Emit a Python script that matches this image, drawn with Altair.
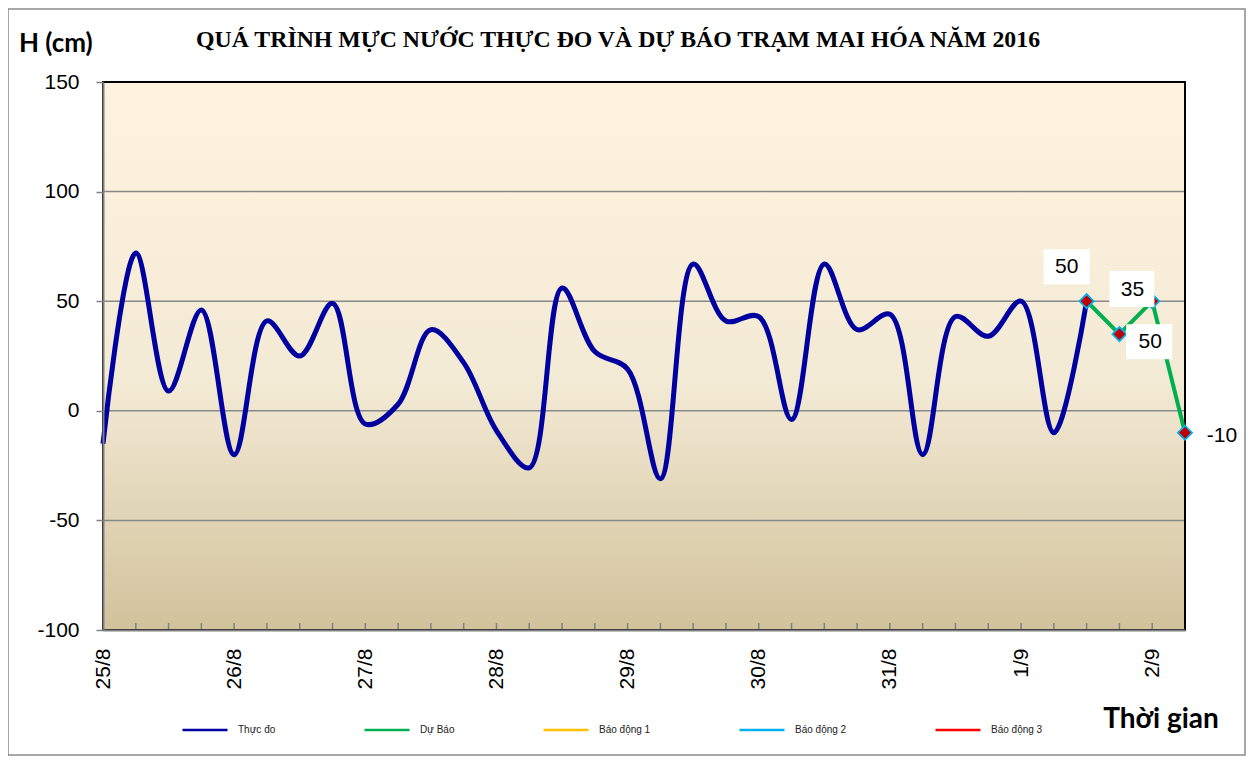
import json
import altair as alt
import pandas as pd

# ---------------- data ----------------
day_labels = ["25/8", "26/8", "27/8", "28/8", "29/8", "30/8", "31/8", "1/9", "2/9"]
steps_per_day = 4
obs_steps = list(range(0, 31))
obs_values = [-15, 72, 9, 46, -20, 41, 25, 49, -6, 3, 37, 22, -9, -26, 56, 27, 19,
              -31, 67, 41, 43, -4, 67, 37, 44, -20, 43, 34, 50, -10, 50]
fc_steps = [30, 31, 32, 33]
fc_values = [50, 35, 50, -10]
series_names = ["Thực đo", "Dự Báo", "Báo động 1", "Báo động 2", "Báo động 3"]
series_colors = ["#0000A0", "#00B050", "#FFC000", "#00B0F0", "#FF0000"]
y_ticks = [-100, -50, 0, 50, 100, 150]
grid_values = [-50, 0, 50, 100]
tick_steps = list(range(1, 33))
title_text = "QUÁ TRÌNH MỰC NƯỚC THỰC ĐO VÀ DỰ BÁO TRẠM MAI HÓA  NĂM 2016"
y_title = "H (cm)"
x_title = "Thời gian"

W, H = 1082, 548
x_max = fc_steps[-1]

obs_df = pd.DataFrame({"step": obs_steps, "value": obs_values, "series": series_names[0]})
fc_df = pd.DataFrame({"step": fc_steps, "value": fc_values, "series": series_names[1]})
fc_df["label"] = [str(v) for v in fc_values]
one = pd.DataFrame({"k": [0]})

label_expr = "%s[datum.value / %d]" % (json.dumps(day_labels), steps_per_day)

x_enc = alt.X(
    "step:Q",
    scale=alt.Scale(domain=[0, x_max], nice=False, zero=False),
    axis=alt.Axis(
        values=[i * steps_per_day for i in range(len(day_labels))],
        labelExpr=label_expr, labelAngle=270, labelFontSize=21,
        labelFont="Liberation Sans", labelColor="#000000", labelPadding=18,
        ticks=False, grid=False, domainColor="#808080", domainWidth=2,
        title=None, zindex=1,
    ),
)
y_enc = alt.Y(
    "value:Q",
    scale=alt.Scale(domain=[y_ticks[0], y_ticks[-1]], nice=False, zero=False),
    axis=alt.Axis(
        values=y_ticks, labelExpr="'' + datum.value", labelFontSize=21,
        labelFont="Liberation Sans",
        labelColor="#000000", labelPadding=17, tickSize=7, tickColor="#808080",
        tickWidth=1.5, grid=False, domainColor="#808080", domainWidth=2,
        title=None, zindex=1,
    ),
)
color_enc = alt.Color(
    "series:N",
    scale=alt.Scale(domain=series_names, range=series_colors),
    legend=alt.Legend(
        title=None, orient="none", legendX=78, legendY=624, direction="horizontal",
        symbolType="stroke", symbolSize=2025, symbolStrokeWidth=2.5,
        labelFontSize=10, labelFont="Liberation Sans", labelColor="#222222",
        labelOffset=9, columnPadding=83, gridAlign="none",
    ),
)

gradient = alt.LinearGradient(
    gradient="linear",
    stops=[
        alt.GradientStop(color="#FEF3DE", offset=0),
        alt.GradientStop(color="#F3EAD5", offset=0.55),
        alt.GradientStop(color="#D1C29B", offset=1),
    ],
    x1=0, x2=0, y1=0, y2=1,
)

bg = alt.Chart(one).mark_rect(fill=gradient, stroke=None).encode(
    x=alt.value(0), x2=alt.value(W), y=alt.value(0), y2=alt.value(H)
)

grid = alt.Chart(pd.DataFrame({"value": grid_values})).mark_rule(
    color="#888888", strokeWidth=1.5
).encode(y=y_enc, x=alt.value(0), x2=alt.value(W))

ticks = alt.Chart(pd.DataFrame({"step": tick_steps})).mark_rule(
    color="#808080", strokeWidth=1.5
).encode(x=x_enc, y=alt.value(H - 7), y2=alt.value(H))

frame = alt.Chart(one).mark_rect(fill=None, stroke="#000000", strokeWidth=2).encode(
    x=alt.value(0), x2=alt.value(W), y=alt.value(0), y2=alt.value(H)
)

obs_line = alt.Chart(obs_df).mark_line(
    interpolate="catmull-rom", strokeWidth=5
).encode(x=x_enc, y=y_enc, color=color_enc)

fc_line = alt.Chart(fc_df).mark_line(strokeWidth=4).encode(
    x=x_enc, y=y_enc, color=color_enc
)

fc_pts = alt.Chart(fc_df).mark_point(
    shape="diamond", filled=True, fill="#C00000", stroke="#00B0F0",
    strokeWidth=1.8, size=200, opacity=1
).encode(x=x_enc, y=y_enc)

# label placement (layout only): box offsets and text offsets per forecast point
box_offsets = [(-43, 3, -52, -17), (-10, 35, -63, -27), (-26, 20, 23, 58)]
text_offsets = [(-20, -34), (13, -44), (-2, 41), (37, 3)]

layers = [bg, grid, ticks, frame, obs_line, fc_line, fc_pts]

for i, (x0, x1, y0, y1) in enumerate(box_offsets):
    layers.append(
        alt.Chart(fc_df.iloc[[i]]).mark_rect(
            fill="#FFFFFF", xOffset=x0, x2Offset=x1, yOffset=y0, y2Offset=y1
        ).encode(
            x=x_enc, x2=alt.X2("step:Q"), y=y_enc, y2=alt.Y2("value:Q")
        )
    )
for i, (dx, dy) in enumerate(text_offsets):
    layers.append(
        alt.Chart(fc_df.iloc[[i]]).mark_text(
            font="Liberation Sans", fontSize=21, color="#000000",
            dx=dx, dy=dy, align="center", baseline="middle"
        ).encode(x=x_enc, y=y_enc, text="label:N")
    )

title = alt.Chart(pd.DataFrame({"t": [title_text]})).mark_text(
    font="Liberation Serif", fontWeight="bold", fontSize=23.8, color="#000000",
    align="center", baseline="middle"
).encode(x=alt.value(515), y=alt.value(-42), text="t:N")

ytitle = alt.Chart(pd.DataFrame({"t": [y_title]})).mark_text(
    font="Lato", fontWeight="bold", fontSize=26, color="#000000",
    align="left", baseline="middle"
).encode(x=alt.value(-84), y=alt.value(-38), text="t:N")

xtitle = alt.Chart(pd.DataFrame({"t": [x_title]})).mark_text(
    font="Lato", fontWeight="bold", fontSize=28, color="#000000",
    align="center", baseline="middle"
).encode(x=alt.value(1058), y=alt.value(638), text="t:N")

outer = alt.Chart(one).mark_rect(fill=None, stroke="#8a8a8a", strokeWidth=1.5).encode(
    x=alt.value(-95), x2=alt.value(1142), y=alt.value(-73), y2=alt.value(673)
)

layers += [title, ytitle, xtitle, outer]

chart = alt.layer(*layers).properties(
    width=W, height=H,
    padding={"left": 95, "top": 74, "right": 61, "bottom": 127},
    autosize=alt.AutoSizeParams(type="none"),
    background="#FFFFFF",
).configure_view(stroke=None)

chart.save("out.html", embed_options={"renderer": "svg", "actions": False})
